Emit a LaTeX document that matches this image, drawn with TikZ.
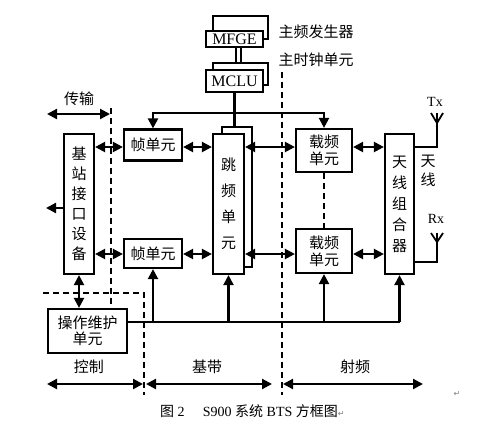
\documentclass[tikz,border=0pt]{standalone}
\usepackage{fontspec}
\setmainfont{Liberation Serif}
\newfontfamily\cjk{Noto Sans CJK SC}
\newfontfamily\symfont{DejaVu Sans}
\usetikzlibrary{arrows.meta}
\begin{document}
\begin{tikzpicture}[x=1pt,y=-1pt,
  box/.style={draw, line width=2.2pt, fill=white, inner sep=0pt, align=center},
  ln/.style={line width=2.2pt},
  arr/.style={ln, -{Triangle[length=10pt,width=10pt]}},
  darr/.style={ln, {Triangle[length=10pt,width=10pt]}-{Triangle[length=10pt,width=10pt]}},
  dsh/.style={line width=2pt, dash pattern=on 6pt off 4pt},
  cjkf/.style={font=\cjk\fontsize{15}{#1}\selectfont},
  cjkf/.default=17,
  latf/.style={font=\fontsize{16}{17}\selectfont},
  lbl/.style={inner sep=0pt, align=center}
]
\useasboundingbox[fill=white] (0,0) rectangle (491,437);

% ---- clock boxes
\node[box, minimum width=55pt, minimum height=23pt] (mfgeb) at (240.5,27.5) {};
\node[box, latf, minimum width=57pt, minimum height=16pt] (mfge) at (234.5,39) {MFGE};
\node[box, minimum width=55pt, minimum height=22pt] (mclub) at (240.5,74) {};
\node[box, latf, minimum width=57pt, minimum height=22pt] (mclu) at (234.5,81) {MCLU};
\node[lbl, cjkf] (tmfge) at (316,32) {主频发生器};
\node[lbl, cjkf] (tmclu) at (316,60) {主时钟单元};

% ---- main blocks
\node[box, cjkf=20, minimum width=30pt, minimum height=140pt] (bsi) at (79,204) {基\\站\\接\\口\\设\\备};
\node[box, cjkf, minimum width=58pt, minimum height=31pt] (f1) at (153,145) {帧单元};
\node[box, cjkf, minimum width=58pt, minimum height=29pt] (f2) at (153,253.5) {帧单元};
\node[box, minimum width=30pt, minimum height=140pt] (hopb) at (237,197) {};
\node[box, cjkf=26, minimum width=31pt, minimum height=140pt] (hop) at (228.5,204) {跳\\频\\单\\元};
\node[box, cjkf=17, minimum width=56pt, minimum height=43pt] (c1) at (324,150.5) {载频\\单元};
\node[box, cjkf=17, minimum width=56pt, minimum height=44pt] (c2) at (324,251) {载频\\单元};
\node[box, cjkf=21, minimum width=29pt, minimum height=140pt] (ant) at (399.5,204) {天\\线\\组\\合\\器};
\node[box, cjkf=16, minimum width=79pt, minimum height=44pt] (om) at (87.5,331) {操作维护\\单元};

% ---- helper coordinates
\coordinate (r1) at (0,147);
\coordinate (r2) at (0,254);
\coordinate (bustop) at (234.5,113);
\coordinate (bb) at (0,322);
\coordinate (bsiout) at (46,208);
\coordinate (txtop) at (437,113);
\coordinate (rxtop) at (437,233);
\coordinate (rxrow) at (0,262);

% ---- clock connections
\draw[line width=1.6pt, double, double distance=3pt] ([xshift=4pt]mfge.south) -- ([xshift=4pt]mfge.south |- mclub.north);
\draw[ln] (mclu.south) -- (mclu.south |- hopb.north);
\draw[arr] (bustop) -| (f1.north);
\draw[arr] (bustop) -| (c1.north);

% ---- row arrows
\draw[darr] (bsi.east |- r1) -- (f1.west |- r1);
\draw[darr] (f1.east |- r1) -- (hop.west |- r1);
\draw[darr] (hop.east |- r1) -- (c1.west |- r1);
\draw[darr] (c1.east |- r1) -- (ant.west |- r1);
\draw[darr] (bsi.east |- r2) -- (f2.west |- r2);
\draw[darr] (f2.east |- r2) -- (hop.west |- r2);
\draw[darr] (hop.east |- r2) -- (c2.west |- r2);
\draw[darr] (c2.east |- r2) -- (ant.west |- r2);
\draw[arr] (bsi.west |- bsiout) -- (bsiout);
\draw[dsh] (c1.south) -- (c2.north);

% ---- O&M
\draw[darr] (bsi.south) -- (bsi.south |- om.north);
\draw[ln] (om.east |- bb) -- (ant.south |- bb);
\draw[arr] (f2.south |- bb) -- (f2.south);
\draw[arr] (hop.south |- bb) -- (hop.south);
\draw[arr] (c2.south |- bb) -- (c2.south);
\draw[arr] (ant.south |- bb) -- (ant.south);

% ---- antennas
\draw[ln] (ant.east |- r1) -| (txtop);
\draw[line width=1.8pt] ([xshift=-6pt]txtop) -- ([yshift=-10pt]txtop) -- ([xshift=6pt]txtop);
\draw[ln] (ant.east |- rxrow) -| (rxtop);
\draw[line width=1.8pt] ([xshift=-6pt]rxtop) -- ([yshift=-9pt]rxtop) -- ([xshift=6pt]rxtop);
\node[lbl, font=\fontsize{14}{15}\selectfont] (tx) at (435,102) {Tx};
\node[lbl, font=\fontsize{14}{15}\selectfont] (rx) at (436,219) {Rx};
\node[lbl, cjkf=19] (tant) at (428,171) {天\\线};

% ---- domain separators
\coordinate (d1t) at (111,108);
\draw[dsh, line width=1.3pt] (d1t) -- (d1t |- om.north);
\coordinate (d2t) at (282,72);
\coordinate (d2b) at (282,395);
\draw[dsh] (d2t) -- (d2b);
\coordinate (d3a) at (43,293);
\coordinate (d3b) at (144,293);
\coordinate (d3c) at (144,395);
\draw[dsh] (d3a) -- (d3b) -- (d3c);

% ---- domain arrows
\coordinate (t1) at (47,114);
\coordinate (t2) at (110,114);
\draw[darr] (t1) -- (t2);
\node[lbl, cjkf] (ttrans) at (79,99) {传输};
\coordinate (k1) at (47,384);
\coordinate (k2) at (143,384);
\draw[darr] (k1) -- (k2);
\node[lbl, cjkf] (tctrl) at (89,367) {控制};
\coordinate (b1) at (146,384);
\coordinate (b2) at (272,384);
\draw[darr] (b1) -- (b2);
\node[lbl, cjkf] (tbase) at (207,367) {基带};
\coordinate (s1) at (283,384);
\coordinate (s2) at (423,384);
\draw[darr] (s1) -- (s2);
\node[lbl, cjkf] (trf) at (355,367) {射频};

% ---- caption
\node[lbl, anchor=west, font=\fontsize{14}{16}\selectfont] (cap) at (160,411)
  {{\cjk 图}\ 2\hspace{1.3em}S900 {\cjk 系统} BTS {\cjk 方框图}{\color{gray}\symfont\fontsize{8}{8}\selectfont ↵}};
\node[lbl, text=gray, font=\symfont\fontsize{8}{8}\selectfont] (pm) at (457,394) {↵};
\end{tikzpicture}
\end{document}
